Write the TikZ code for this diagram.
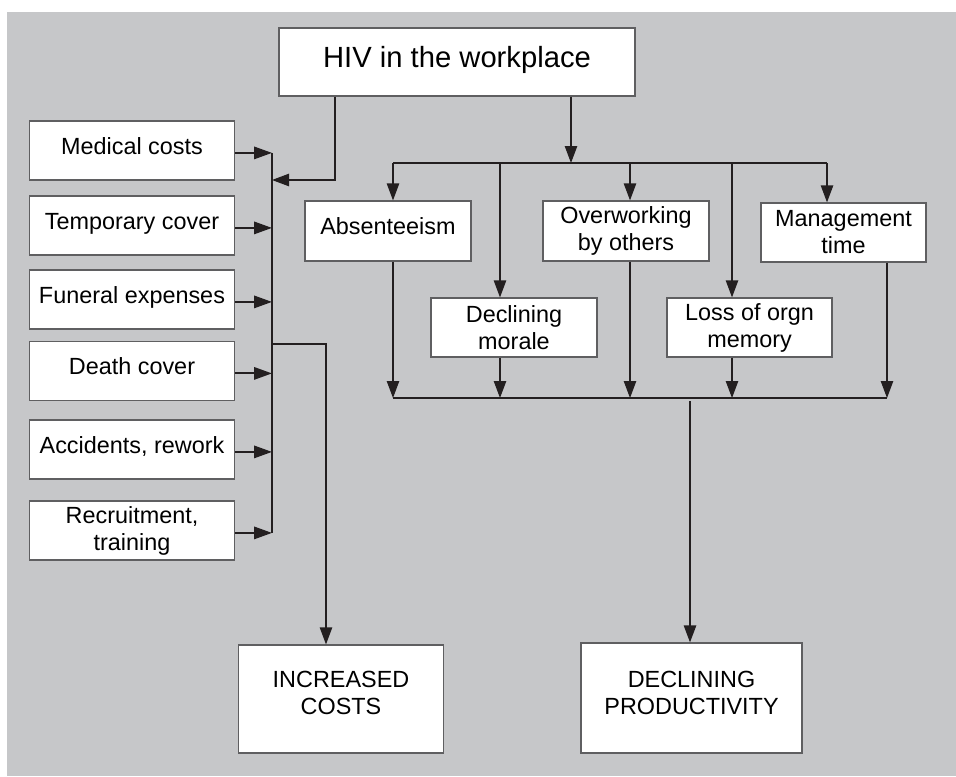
\documentclass[tikz,border=0pt]{standalone}
\usepackage{fontspec}
\setmainfont{Liberation Sans}
\usepackage{tikz}
\usetikzlibrary{arrows.meta,positioning}
\definecolor{bggray}{RGB}{198,199,201}
\definecolor{boxline}{RGB}{95,95,97}
\definecolor{ink}{RGB}{35,31,32}
\tikzstyle{box} = [draw=boxline, fill=white, line width=0.6pt, align=center,
    minimum width=102.5pt, minimum height=29.5pt, inner sep=2pt,
    font=\fontsize{11.7}{13.5}\selectfont]
\tikzstyle{lift} = [text height=8.4pt, text depth=4.8pt]
\tikzstyle{wire} = [draw=ink, line width=0.6pt]
\tikzstyle{arr} = [wire, -{Triangle[length=8.5pt,width=6.2pt]}]
\tikzstyle{feed} = [wire, line width=1pt, -{Triangle[length=9pt,width=6.2pt]}]

\begin{document}
\begin{tikzpicture}[x=0.5pt, y=-0.5pt]
  \useasboundingbox (0,0) rectangle (956,776);
  \fill [bggray] (7,12) rectangle (956,776);

  \node [box, minimum width=178pt, minimum height=34pt,
    font=\fontsize{14.6}{17}\selectfont, text height=10.5pt, text depth=5pt] (hiv) at (457,62) {HIV in the workplace};

  % costs column
  \node [box, lift] (med) at (132,150.5) {Medical costs};
  \node [box, lift, below of=med, node distance=37.5pt] (temp) {Temporary cover};
  \node [box, lift, below of=temp, node distance=37pt] (fun) {Funeral expenses};
  \node [box, lift, below of=fun, node distance=35.75pt] (death) {Death cover};
  \node [box, lift, below of=death, node distance=39.25pt] (acc) {Accidents, rework};
  \node [box, below of=acc, node distance=40.5pt] (rec) {Recruitment,\\training};
  \node [box, minimum height=54pt, text depth=6pt] (inc) at (341,699) {INCREASED\\COSTS};

  % productivity side
  \node [box, lift, minimum width=83pt, minimum height=30pt] (abs) at (388,231) {Absenteeism};
  \node [box, minimum width=83pt, minimum height=30pt, right of=abs, node distance=119pt] (over) {Overworking\\by others};
  \node [box, minimum width=82.5pt, minimum height=29.5pt] (mgmt) at (843.5,232.5) {Management\\time};
  \node [box, minimum width=83pt] (mor) at (514,327.5) {Declining\\morale};
  \node [box, minimum width=82.5pt, right of=mor, node distance=117.75pt] (loss) {Loss of orgn\\memory};
  \node [box, minimum width=110.5pt, minimum height=55pt, text depth=5pt] (prod) at (691.5,698) {DECLINING\\PRODUCTIVITY};

  \coordinate (bus) at (272,154);
  \coordinate (hl) at (335,180);
  \coordinate (cj) at (326,344);
  \coordinate (top) at (571,163);
  \coordinate (low) at (690,398);

  % left collector
  \foreach \b in {med,temp,fun,death,acc,rec}
    \draw [feed] ([yshift=-1.2pt]\b.east) -- ([yshift=-1.2pt]\b.east -| bus);
  \draw [wire] ([yshift=-1.2pt]med.east -| bus) -- ([yshift=-1.2pt]rec.east -| bus);
  \draw [arr] (hiv.south -| hl) |- (hl -| bus);
  \draw [arr] (cj -| bus) -| (inc.north -| cj);

  % right tree
  \draw [arr] (hiv.south -| top) -- (top);
  \draw [wire] ([xshift=2.5pt]abs.north |- top) -- ([xshift=-8.25pt]mgmt.north |- top);
  \foreach \n/\s in {abs/2.5pt, mor/-7pt, over/2pt, loss/-8.75pt, mgmt/-8.25pt}
    \draw [arr] ([xshift=\s]\n.north |- top) -- ([xshift=\s]\n.north);
  \foreach \n/\s in {abs/2.5pt, mor/-7pt, over/2pt, loss/-8.75pt, mgmt/21.75pt}
    \draw [arr] ([xshift=\s]\n.south) -- ([xshift=\s]\n.south |- low);
  \draw [wire] ([xshift=2.5pt]abs.south |- low) -- ([xshift=21.75pt]mgmt.south |- low);
  \draw [arr] ([yshift=-1.5pt]low) -- (prod.north -| low);
\end{tikzpicture}
\end{document}
